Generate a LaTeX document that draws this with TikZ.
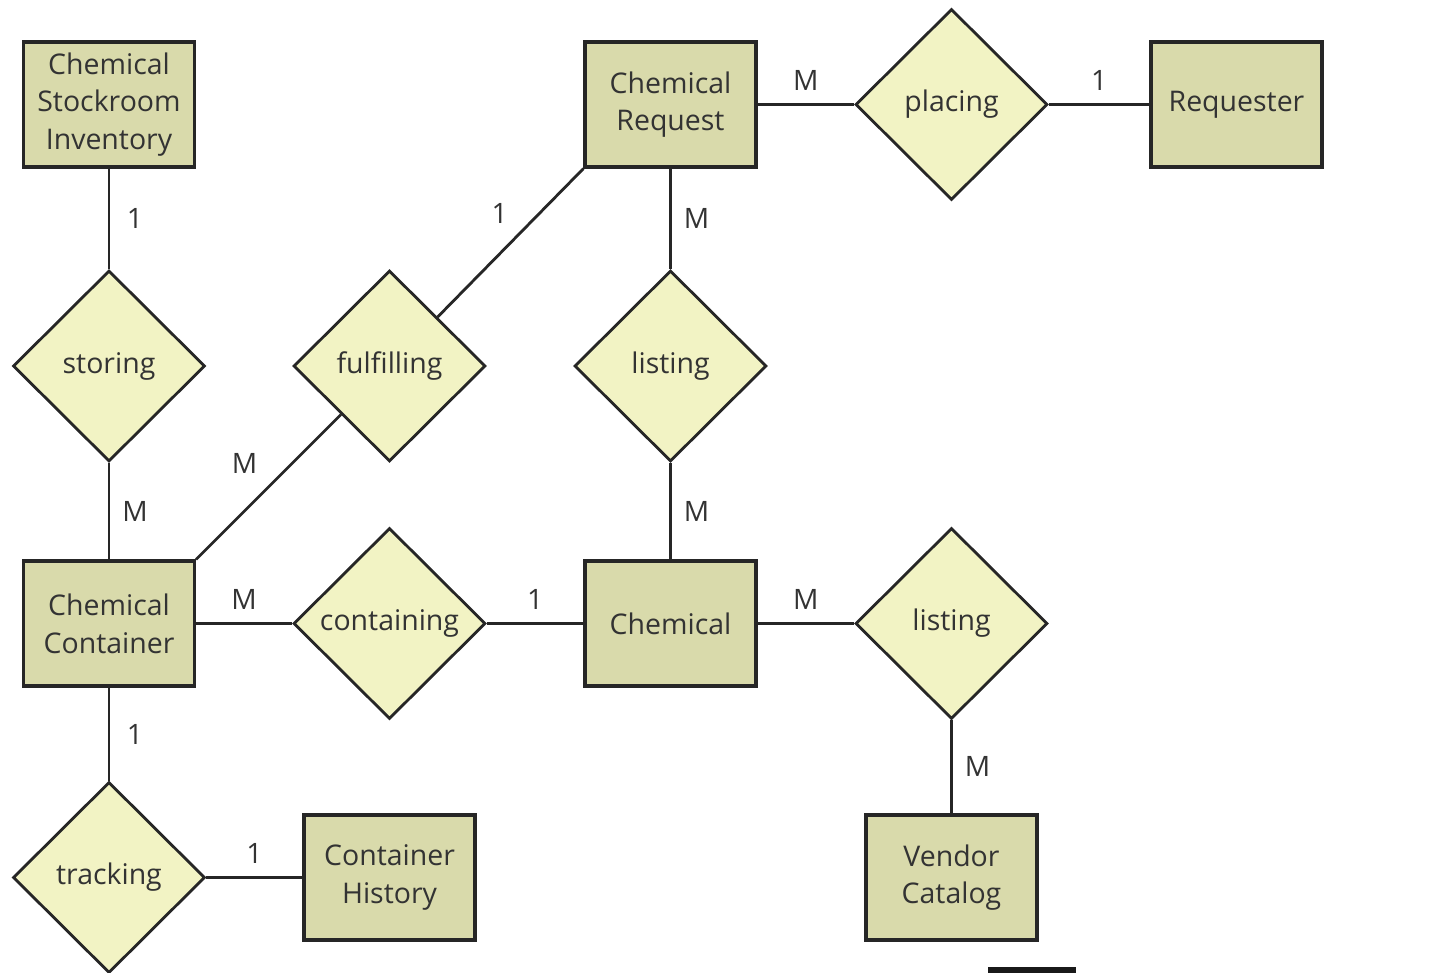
\documentclass[tikz,border=0pt]{standalone}
\usepackage{fontspec}
\setmainfont{Open Sans}
\usetikzlibrary{shapes.geometric}

\definecolor{entfill}{HTML}{D9DAAB}
\definecolor{relfill}{HTML}{F2F3C4}
\definecolor{inkgray}{HTML}{333333}

\tikzset{
  entity/.style={draw=black!85, line width=1.8pt, fill=entfill, minimum width=3.42cm,
    minimum height=2.5cm, align=center, inner sep=0pt, text=inkgray,
    font=\fontsize{16.2}{21.5}\selectfont},
  relation/.style={draw=black!85, line width=1.6pt, fill=relfill, diamond, shape aspect=1,
    minimum width=3.84cm, minimum height=3.82cm, inner sep=0pt, text=inkgray,
    font=\fontsize{16.2}{21.5}\selectfont},
  link/.style={line width=1.6pt, draw=black!85},
  card/.style={text=inkgray, inner sep=0pt, font=\fontsize{16}{19}\selectfont},
  hcard/.style={card, midway, yshift=0.48cm},
  vcard/.style={card, midway, xshift=0.52cm},
  dcard/.style={card, midway, xshift=-0.48cm, yshift=0.47cm}
}

\begin{document}
\begin{tikzpicture}[x=0.02cm, y=-0.02cm]
  \useasboundingbox (0,0) rectangle (1431,973);

  \node[entity] (inventory) at (109,104.5) {Chemical\\Stockroom\\Inventory};
  \node[entity] (request) at (670.5,104.5) {Chemical\\Request};
  \node[entity] (requester) at (1236.5,104.5) {Requester};
  \node[entity] (container) at (109,623.5) {Chemical\\Container};
  \node[entity] (chemical) at (670.5,623.5) {Chemical};
  \node[entity] (history) at (389.5,877.5) {Container\\History};
  \node[entity] (vendor) at (951.5,877.5) {Vendor\\Catalog};

  \node[relation] (placing) at (951.5,104.5) {placing};
  \node[relation] (storing) at (109,366) {storing};
  \node[relation] (fulfilling) at (389.5,366) {fulfilling};
  \node[relation] (listingA) at (670.5,366) {listing};
  \node[relation] (containing) at (389.5,623.5) {containing};
  \node[relation] (listingB) at (951.5,623.5) {listing};
  \node[relation] (tracking) at (109,877.5) {tracking};

  \draw[link] (request) -- node[hcard] {M} (placing);
  \draw[link] (placing) -- node[hcard] {1} (requester);
  \draw[link] (inventory) -- node[vcard] {1} (storing);
  \draw[link] (storing) -- node[vcard] {M} (container);
  \draw[link] (container.north east) -- node[dcard] {M} (fulfilling);
  \draw[link] (fulfilling) -- node[dcard, xshift=0.26cm, yshift=0.11cm] {1} (request.south west);
  \draw[link] (request) -- node[vcard] {M} (listingA);
  \draw[link] (listingA) -- node[vcard] {M} (chemical);
  \draw[link] (container) -- node[hcard] {M} (containing);
  \draw[link] (containing) -- node[hcard] {1} (chemical);
  \draw[link] (chemical) -- node[hcard] {M} (listingB);
  \draw[link] (listingB) -- node[vcard] {M} (vendor);
  \draw[link] (container) -- node[vcard] {1} (tracking);
  \draw[link] (tracking) -- node[hcard] {1} (history);

  \fill[black!90] (988,967) rectangle (1076,973);
\end{tikzpicture}
\end{document}
